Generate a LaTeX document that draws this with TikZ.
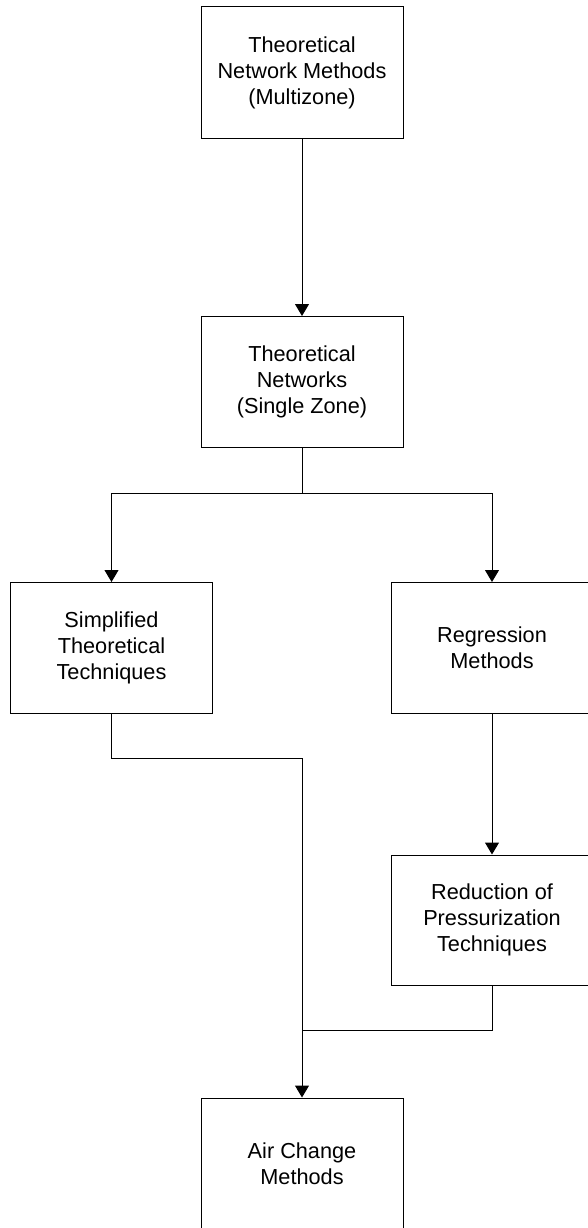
\documentclass[tikz,border=0pt]{standalone}
\usepackage{fontspec}
\setmainfont{Liberation Sans}
\usetikzlibrary{arrows.meta}
\begin{document}
\begin{tikzpicture}[x=1pt,y=-1pt,
  box/.style={draw=black, line width=1pt, fill=white, minimum width=202pt,
    minimum height=131pt, align=center, inner sep=0pt,
    font=\fontsize{21.7}{26}\selectfont},
  link/.style={draw=black, line width=1pt},
  arr/.style={link, -{Triangle[width=14pt,length=12pt]}}]
  \useasboundingbox (0,0) rectangle (588,1228);
  \clip (0,0) rectangle (588,1228);
  % boxes
  \node[box] (multi)  at (302,72.5)  {Theoretical\\Network Methods\\(Multizone)};
  \node[box] (single) at (302,382)   {Theoretical\\Networks\\(Single Zone)};
  \node[box] (simpl)  at (111.5,648) {Simplified\\Theoretical\\Techniques};
  \node[box] (regr)   at (492,648)   {Regression\\Methods};
  \node[box, minimum height=130pt] (press) at (492,920) {Reduction of\\Pressurization\\Techniques};
  \node[box, minimum height=132pt] (air)   at (302,1164) {Air Change\\Methods};
  % junction points
  \coordinate (split) at (302,493);
  \coordinate (splitL) at (111.5,493);
  \coordinate (splitR) at (492,493);
  \coordinate (joinL) at (111.5,758);
  \coordinate (joinA) at (302,758);
  \coordinate (joinR) at (492,1030);
  \coordinate (joinB) at (302,1030);
  % connectors
  \draw[arr] (multi.south) -- (single.north);
  \draw[link] (single.south) -- (split);
  \draw[link] (splitL) -- (splitR);
  \draw[arr] (splitL) -- (simpl.north);
  \draw[arr] (splitR) -- (regr.north);
  \draw[arr] (regr.south) -- (press.north);
  \draw[link] (simpl.south) -- (joinL) -- (joinA);
  \draw[arr] (joinA) -- (air.north);
  \draw[link] (press.south) -- (joinR) -- (joinB);
\end{tikzpicture}
\end{document}
